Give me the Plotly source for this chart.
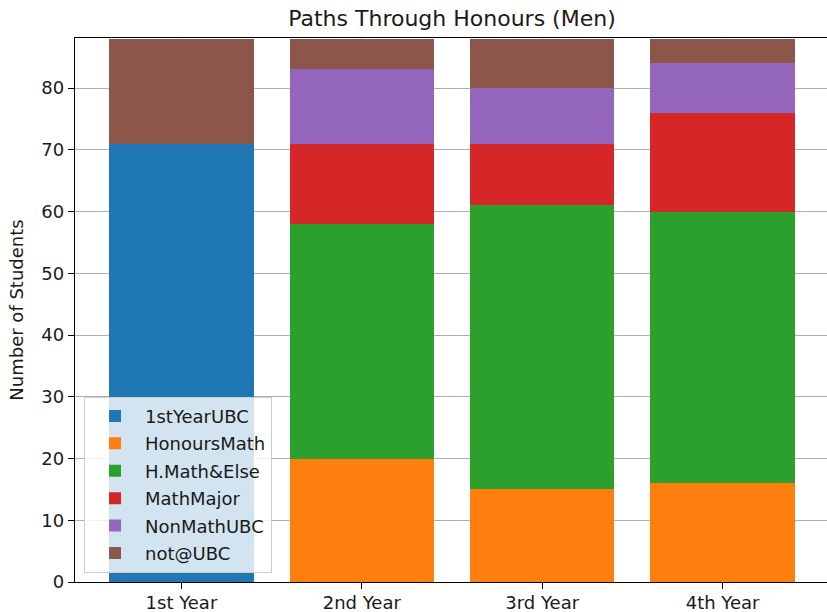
import plotly.graph_objects as go

categories = ["1st Year", "2nd Year", "3rd Year", "4th Year"]
series_names = ["1stYearUBC", "HonoursMath", "H.Math&Else", "MathMajor", "NonMathUBC", "not@UBC"]
first_year_ubc = [71, 0, 0, 0]
honours_math = [0, 20, 15, 16]
hmath_else = [0, 38, 46, 44]
math_major = [0, 13, 10, 16]
non_math_ubc = [0, 12, 9, 8]
not_at_ubc = [17, 5, 8, 4]
series_values = [first_year_ubc, honours_math, hmath_else, math_major, non_math_ubc, not_at_ubc]
colors = ["#1f77b4", "#ff7f0e", "#2ca02c", "#d62728", "#9467bd", "#8c564b"]
y_ticks = [0, 10, 20, 30, 40, 50, 60, 70, 80]

fig = go.Figure()
for name, vals, col in zip(series_names, series_values, colors):
    fig.add_trace(go.Bar(x=categories, y=vals, name=name, legendgroup=name,
                         marker=dict(color=col, line=dict(width=0))))

font = "DejaVu Sans, Arial, sans-serif"
txt = "#1a1a1a"
fig.update_layout(
    width=827, height=612,
    margin=dict(l=75, r=0, t=38, b=30),
    barmode="stack", bargap=0.2,
    plot_bgcolor="white", paper_bgcolor="white",
    font=dict(family=font, size=18, color=txt),
    title=dict(text="Paths Through Honours (Men)", x=(75 + 829) / 2 / 827, xanchor="center",
               y=1 - 18 / 612, yanchor="middle", font=dict(size=22, color=txt)),
    legend=dict(x=0.012, y=0.017, xanchor="left", yanchor="bottom",
                bgcolor="rgba(255,255,255,0.8)", bordercolor="#cccccc", borderwidth=1,
                traceorder="grouped", font=dict(size=18), itemwidth=50,
                tracegroupgap=1),
    showlegend=True,
)
fig.update_xaxes(range=[-0.59, 3.579], showgrid=True, gridcolor="#b0b0b0", gridwidth=1.4,
                 showline=True, linecolor="black", linewidth=1.4, mirror=True,
                 ticks="outside", ticklen=6, tickwidth=1.4, tickcolor="black", layer="above traces",
                 tickfont=dict(size=18), automargin=False, ticklabelstandoff=-2)
fig.update_yaxes(range=[0, 88.1], tickvals=y_ticks, showgrid=True, gridcolor="#b0b0b0", gridwidth=1.4,
                 showline=True, linecolor="black", linewidth=1.4, mirror=False,
                 ticks="outside", ticklen=6, tickwidth=1.4, tickcolor="black", layer="above traces",
                 zeroline=False, tickfont=dict(size=18),
                 title=dict(text="Number of Students", font=dict(size=18), standoff=12))

fig.write_html("out.html", config={"displayModeBar": False},
               post_script="document.body.style.margin='0';")
